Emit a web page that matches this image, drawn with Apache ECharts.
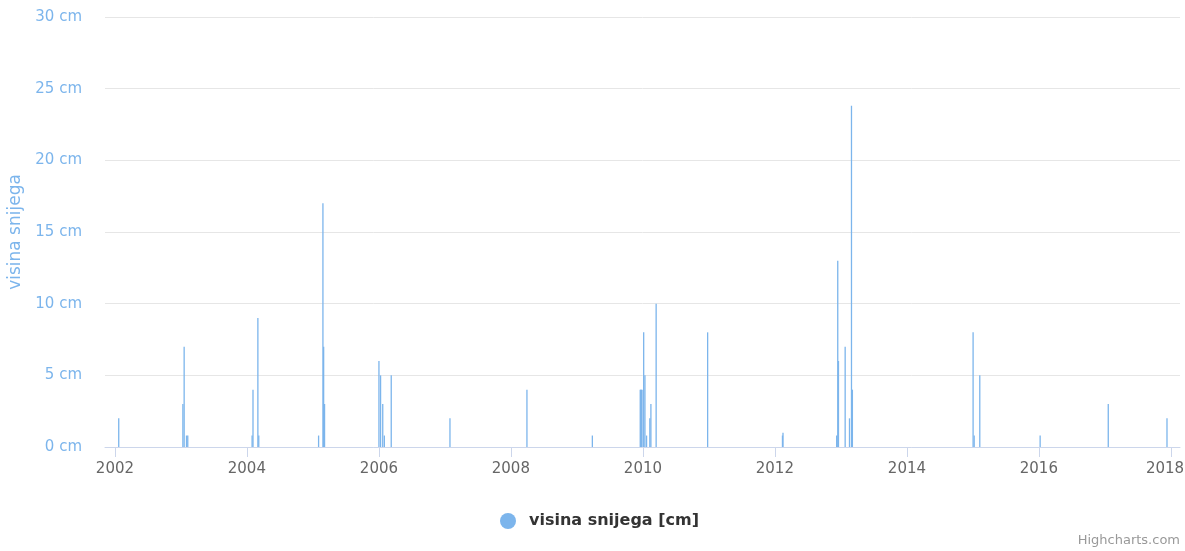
<!DOCTYPE html>
<html>
<head>
<meta charset="utf-8">
<script src="https://cdn.jsdelivr.net/npm/echarts@6/dist/echarts.min.js"></script>
<style>
html,body{margin:0;padding:0;background:#fff;}
#chart{width:1185px;height:551px;}
</style>
</head>
<body>
<div id="chart"></div>
<script>
// Snow depth observations (date, cm)
const dates = [
  '2002-01-22',
  '2003-01-12','2003-01-19','2003-02-01','2003-02-08',
  '2004-01-30','2004-02-04','2004-03-02','2004-03-07',
  '2005-02-01','2005-02-25','2005-03-01','2005-03-06',
  '2006-01-01','2006-01-10','2006-01-22','2006-01-31','2006-03-10',
  '2007-01-29',
  '2008-03-30',
  '2009-03-27',
  '2009-12-17','2009-12-20','2009-12-23','2009-12-27',
  '2010-01-05','2010-01-12','2010-01-21','2010-02-08','2010-02-14','2010-03-15',
  '2010-12-25',
  '2012-02-12','2012-02-15',
  '2012-12-08','2012-12-14','2012-12-18',
  '2013-01-24','2013-02-17','2013-02-28','2013-03-05',
  '2015-01-02','2015-01-08','2015-02-08',
  '2016-01-08',
  '2017-01-19',
  '2017-12-10'
];
const snowDepth = [
  2,
  3, 7, 0.8, 0.8,
  0.8, 4, 9, 0.8,
  0.8, 17, 7, 3,
  6, 5, 3, 0.8, 5,
  2,
  4,
  0.8,
  4, 4, 4, 4,
  8, 5, 0.8, 2, 3, 10,
  8,
  0.8, 1,
  0.8, 13, 6,
  7, 2, 23.8, 4,
  8, 0.8, 5,
  0.8,
  3,
  2
];
const tickYears = [2002, 2004, 2006, 2008, 2010, 2012, 2014, 2016, 2018];
const yTicks = [0, 5, 10, 15, 20, 25, 30];
const seriesName = 'visina snijega [cm]';
const axisTitle = 'visina snijega';

const seriesData = dates.map((d, i) => [Date.parse(d + 'T00:00:00Z'), snowDepth[i]]);
const tickValues = tickYears.map(y => Date.UTC(y, 0, 1));
const lastYear = tickYears[tickYears.length - 1];

const chart = echarts.init(document.getElementById('chart'));
const font = 'DejaVu Sans, Lucida Grande, Arial, sans-serif';
const labelStyle = { color: '#666666', fontSize: 15, fontFamily: font };
chart.setOption({
  animation: false,
  textStyle: { fontFamily: font },
  grid: { left: 105, right: 5, top: 17, bottom: 104, containLabel: false, outerBoundsMode: 'none' },
  legend: {
    data: [{ name: seriesName, icon: 'circle' }],
    left: 495,
    top: 508,
    itemWidth: 16,
    itemHeight: 16,
    textStyle: { fontFamily: font, fontSize: 16, fontWeight: 'bold', color: '#333333', padding: [0, 0, 0, 8] }
  },
  xAxis: {
    type: 'value',
    min: Date.UTC(2001, 10, 7),
    max: Date.UTC(2018, 1, 20),
    axisLine: { lineStyle: { color: '#ccd6eb', width: 1 } },
    axisTick: { show: true, length: 10, lineStyle: { color: '#ccd6eb' }, customValues: tickValues },
    axisLabel: {
      customValues: tickValues,
      formatter: v => {
        const y = new Date(v).getUTCFullYear();
        return y === lastYear ? '{last|' + y + '}' : '{n|' + y + '}';
      },
      rich: {
        n: labelStyle,
        last: Object.assign({ padding: [0, 12, 0, 0] }, labelStyle)
      },
      color: '#666666', fontSize: 15, margin: 15, fontFamily: font
    },
    splitLine: { show: false }
  },
  yAxis: {
    type: 'value',
    min: yTicks[0],
    max: yTicks[yTicks.length - 1],
    interval: 5,
    name: axisTitle,
    nameLocation: 'middle',
    nameRotate: 90,
    nameGap: 76,
    nameTextStyle: { color: '#7cb5ec', fontSize: 17, fontFamily: font },
    axisLine: { show: false },
    axisTick: { show: false },
    axisLabel: { formatter: '{value} cm', color: '#7cb5ec', fontSize: 15, margin: 23, fontFamily: font },
    splitLine: { lineStyle: { color: '#e6e6e6', width: 1 } }
  },
  series: [{
    name: seriesName,
    type: 'bar',
    data: seriesData,
    barWidth: 1.3,
    itemStyle: { color: '#7cb5ec' }
  }],
  graphic: [{
    type: 'text',
    right: 5,
    top: 534,
    style: { text: 'Highcharts.com', fill: '#999999', fontSize: 13, fontFamily: font }
  }]
});
</script>
</body>
</html>
